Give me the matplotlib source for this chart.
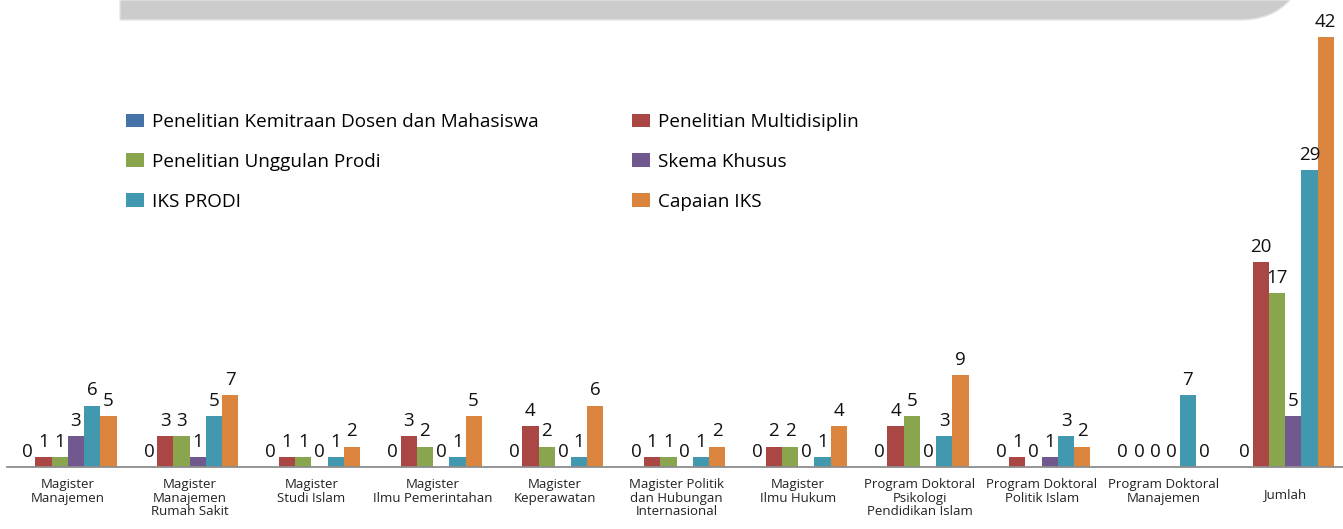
import matplotlib

matplotlib.use("Agg")
import matplotlib.pyplot as plt
import numpy as np
from matplotlib.patches import Patch, PathPatch
from matplotlib.path import Path

W, H = 1343, 529
DPI = 100

categories = [
    "Magister\nManajemen",
    "Magister\nManajemen\nRumah Sakit",
    "Magister\nStudi Islam",
    "Magister\nIlmu Pemerintahan",
    "Magister\nKeperawatan",
    "Magister Politik\ndan Hubungan\nInternasional",
    "Magister\nIlmu Hukum",
    "Program Doktoral\nPsikologi\nPendidikan Islam",
    "Program Doktoral\nPolitik Islam",
    "Program Doktoral\nManajemen",
    "Jumlah",
]

series_names = [
    "Penelitian Kemitraan Dosen dan Mahasiswa",
    "Penelitian Multidisiplin",
    "Penelitian Unggulan Prodi",
    "Skema Khusus",
    "IKS PRODI",
    "Capaian IKS",
]
colors = ["#4572a7", "#aa4643", "#89a54e", "#71588f", "#4198af", "#db843d"]

kemitraan = [0, 0, 0, 0, 0, 0, 0, 0, 0, 0, 0]
multidisiplin = [1, 3, 1, 3, 4, 1, 2, 4, 1, 0, 20]
unggulan = [1, 3, 1, 2, 2, 1, 2, 5, 0, 0, 17]
skema_khusus = [3, 1, 0, 0, 0, 0, 0, 0, 1, 0, 5]
iks_prodi = [6, 5, 1, 1, 1, 1, 1, 3, 3, 7, 29]
capaian_iks = [5, 7, 2, 5, 6, 2, 4, 9, 2, 0, 42]

series = [kemitraan, multidisiplin, unggulan, skema_khusus, iks_prodi, capaian_iks]

plt.rcParams["font.family"] = ["Open Sans", "DejaVu Sans"]

fig = plt.figure(figsize=(W / DPI, H / DPI), dpi=DPI)


def fx(px):
    return px / W


def fy(py):
    return 1 - py / H


# header band at the top (cut off in the original)
verts = [
    (fx(120), fy(0)),
    (fx(120), fy(20)),
    (fx(1240), fy(20)),
    (fx(1272), fy(20)),
    (fx(1290), fy(0)),
    (fx(120), fy(0)),
]
codes = [Path.MOVETO, Path.LINETO, Path.LINETO, Path.CURVE3, Path.CURVE3, Path.CLOSEPOLY]
fig.add_artist(PathPatch(Path(verts, codes), transform=fig.transFigure,
                         facecolor="#cccccc", edgecolor="#e4e4e4", lw=1))

# axes: baseline at y=467 px, 10.24 px per unit
left_px, right_px = 7, 1346
base_px = 467
px_per_unit = 10.24
ax = fig.add_axes([fx(left_px), 1 - base_px / H, (right_px - left_px) / W, base_px / H])
ax.set_xlim(-0.5, len(categories) - 0.5)
ax.set_ylim(0, base_px / px_per_unit)
ax.patch.set_alpha(0)

x = np.arange(len(categories))
n = len(series)
bw = 0.8 / n
for i, (vals, col) in enumerate(zip(series, colors)):
    bars = ax.bar(x + (i - (n - 1) / 2) * bw, vals, width=bw, color=col,
                  label=series_names[i], linewidth=0)
    ax.bar_label(bars, padding=4.5, fontsize=13.5, color="#111111", clip_on=False)

for s in ["left", "right", "top"]:
    ax.spines[s].set_visible(False)
ax.spines["bottom"].set_color("#8c8c8c")
ax.spines["bottom"].set_linewidth(1.3)
ax.set_yticks([])
ax.set_xticks([])

for i, lab in enumerate(categories):
    if "\n" in lab:
        ax.annotate(lab, xy=(i, 0), xytext=(0, -8), textcoords="offset points",
                    ha="center", va="top", fontsize=9.5, color="#222222",
                    linespacing=1.06, annotation_clip=False)
    else:
        ax.annotate(lab, xy=(i, 0), xytext=(0, -19.5), textcoords="offset points",
                    ha="center", va="center", fontsize=9.5, color="#222222",
                    annotation_clip=False)

handles = [Patch(facecolor=c, edgecolor="none") for c in colors]
order = [0, 2, 4, 1, 3, 5]
fig.legend([handles[k] for k in order], [series_names[k] for k in order],
           loc="upper left", bbox_to_anchor=(fx(126), fy(113)), ncol=2,
           frameon=False, fontsize=13.6, handlelength=0.95, handleheight=0.74,
           handletextpad=0.45, labelspacing=1.16, columnspacing=4.9,
           borderpad=0, borderaxespad=0)

fig.savefig("out.png", dpi=DPI)
